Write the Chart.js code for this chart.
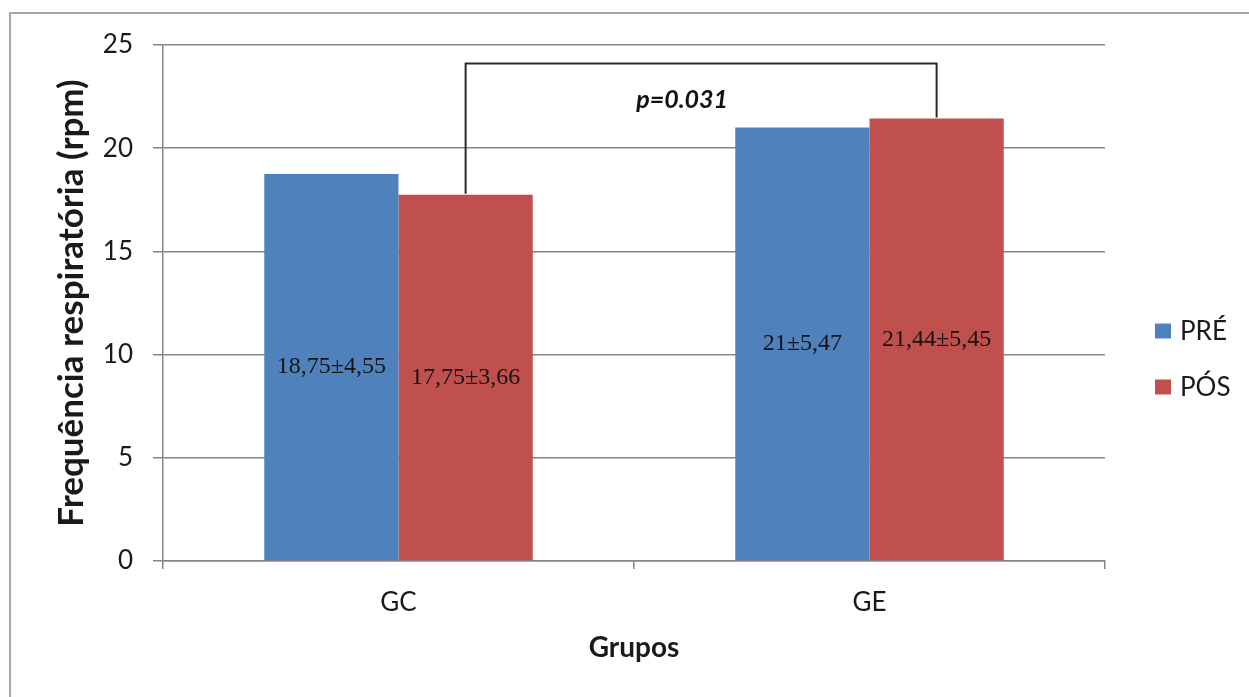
<!DOCTYPE html>
<html>
<head>
<meta charset="utf-8">
<script src="https://cdn.jsdelivr.net/npm/chart.js@4.4.0/dist/chart.umd.min.js"></script>
<style>
  body { margin: 0; background: #fff; overflow: hidden; }
  #wrap { position: relative; width: 1249px; height: 697px; }
  #frame { position: absolute; left: 9px; top: 12px; right: -10px; bottom: -10px; border: 2px solid #a6a6a6; }
  canvas { position: absolute; left: 0; top: 0; }
</style>
</head>
<body>
<div id="wrap">
  <div id="frame"></div>
  <canvas id="grafico"></canvas>
</div>
<script>
// dados
const grupos = ['GC', 'GE'];
const valoresPre = [18.75, 21];
const valoresPos = [17.75, 21.44];
const rotulosPre = ['18,75±4,55', '21±5,47'];
const rotulosPos = ['17,75±3,66', '21,44±5,45'];
const nomesSeries = ['PRÉ', 'PÓS'];
const coresSeries = ['#4f81bd', '#c0504d'];
const textoP = 'p=0.031';
const alturaColchete = 24.1; // nível da linha do p-valor, em rpm

const fonteSans = 'Lato, "Open Sans", sans-serif';

// rótulos dentro das barras
const rotulosBarras = {
  id: 'rotulosBarras',
  afterDatasetsDraw(chart) {
    const ctx = chart.ctx;
    const textos = [rotulosPre, rotulosPos];
    ctx.save();
    ctx.font = '24px "Liberation Serif", serif';
    ctx.fillStyle = '#141414';
    ctx.textAlign = 'center';
    ctx.textBaseline = 'middle';
    chart.data.datasets.forEach((ds, i) => {
      chart.getDatasetMeta(i).data.forEach((bar, j) => {
        ctx.fillText(textos[i][j], bar.x, (bar.y + bar.base) / 2);
      });
    });
    ctx.restore();
  }
};

// colchete com o p-valor entre as barras PÓS
const colchete = {
  id: 'colchete',
  afterDatasetsDraw(chart) {
    const ctx = chart.ctx;
    const barras = chart.getDatasetMeta(1).data;
    const yTopo = chart.scales.y.getPixelForValue(alturaColchete);
    const a = barras[0], b = barras[1];
    ctx.save();
    ctx.strokeStyle = '#2b2b2b';
    ctx.lineWidth = 2;
    ctx.beginPath();
    ctx.moveTo(a.x, a.y - 1);
    ctx.lineTo(a.x, yTopo);
    ctx.lineTo(b.x, yTopo);
    ctx.lineTo(b.x, b.y - 1);
    ctx.stroke();
    ctx.font = 'italic bold 25px ' + fonteSans;
    ctx.fillStyle = '#111';
    ctx.textAlign = 'center';
    ctx.textBaseline = 'middle';
    ctx.fillText(textoP, (a.x + b.x) / 2 - 19, yTopo + 36);
    ctx.restore();
  }
};

// legenda à direita
const legenda = {
  id: 'legenda',
  afterDraw(chart) {
    const ctx = chart.ctx;
    const area = chart.chartArea;
    const x = area.right + 50;
    const centro = (area.top + area.bottom) / 2 + 56.5;
    ctx.save();
    ctx.font = '26px ' + fonteSans;
    ctx.textBaseline = 'middle';
    ctx.textAlign = 'left';
    chart.data.datasets.forEach((ds, i) => {
      const y = centro + (i - 0.5) * 56;
      ctx.fillStyle = ds.backgroundColor;
      ctx.fillRect(x, y - 8, 16, 15);
      ctx.fillStyle = '#1a1a1a';
      ctx.fillText(ds.label, x + 25, y);
    });
    ctx.restore();
  }
};

const configuracao = {
  type: 'bar',
  data: {
    labels: grupos,
    datasets: [
      { label: nomesSeries[0], data: valoresPre, backgroundColor: coresSeries[0] },
      { label: nomesSeries[1], data: valoresPos, backgroundColor: coresSeries[1] }
    ]
  },
  options: {
    responsive: true,
    maintainAspectRatio: false,
    animation: false,
    layout: { padding: { top: 45, right: 144, bottom: 0, left: 0 } },
    datasets: { bar: { categoryPercentage: 0.57, barPercentage: 1 } },
    plugins: {
      legend: { display: false },
      tooltip: { enabled: false }
    },
    scales: {
      x: {
        offset: true,
        grid: { display: true, drawOnChartArea: false, offset: true, tickLength: 8, color: '#868686', lineWidth: 1.5 },
        border: { color: '#868686', width: 1.5 },
        ticks: { font: { family: fonteSans, size: 26 }, color: '#1a1a1a', padding: 18 },
        title: { display: true, text: 'Grupos', font: { family: fonteSans, size: 28, weight: 'bold' }, color: '#1a1a1a', padding: { top: 0, bottom: 32 } },
        afterFit(scale) { scale.height = 136; }
      },
      y: {
        min: 0,
        max: 25,
        ticks: { stepSize: 5, font: { family: fonteSans, size: 26 }, color: '#1a1a1a', padding: 20 },
        grid: { color: '#868686', lineWidth: 1.5, tickLength: 10 },
        border: { color: '#868686', width: 1.5 },
        title: { display: true, text: 'Frequência respiratória (rpm)', font: { family: fonteSans, size: 35, weight: 'bold' }, color: '#1a1a1a', padding: { top: 51, bottom: 0 } },
        afterFit(scale) { scale.width = 163; }
      }
    }
  },
  plugins: [rotulosBarras, colchete, legenda]
};

new Chart(document.querySelector('#grafico'), configuracao);
</script>
</body>
</html>
